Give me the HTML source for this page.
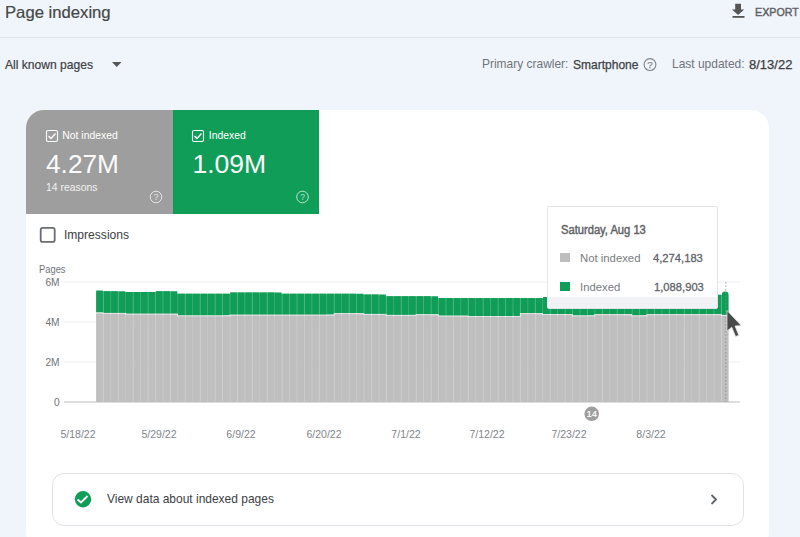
<!DOCTYPE html>
<html><head><meta charset="utf-8">
<style>
*{margin:0;padding:0;box-sizing:border-box}
html,body{width:800px;height:537px;overflow:hidden;background:#f0f4fb;font-family:"Liberation Sans",sans-serif;}
.abs{position:absolute}
.t{position:absolute;white-space:nowrap;line-height:normal}
</style></head><body>
<svg class="abs" style="left:0;top:0" width="800" height="537">
  <line x1="0" y1="37.5" x2="800" y2="37.5" stroke="#dfe3e8" stroke-width="1"/>
  <path d="M735.2 3.8h5.8v5.8h3.2l-6.1 5.4l-6.1-5.4h3.2z" fill="#555"/>
  <rect x="732.5" y="16" width="12" height="1.8" fill="#555"/>
  <path d="M112 62h9.5l-4.75 5z" fill="#555"/>
  <circle cx="650" cy="64.6" r="5.9" fill="none" stroke="#80868b" stroke-width="1.15"/>
  <text x="650" y="68.3" font-size="9.8" stroke="#80868b" stroke-width="0.25" text-anchor="middle" fill="#80868b" font-family="Liberation Sans">?</text>
</svg>

<div class="abs" style="left:26px;top:110px;width:743px;height:440px;background:#fff;border-radius:18px;overflow:hidden">
  <div class="abs" style="left:0;top:0;width:147px;height:104px;background:#9e9e9e"></div>
  <div class="abs" style="left:147px;top:0;width:146px;height:104px;background:#0f9d58"></div>
</div>

<svg class="abs" style="left:0;top:0" width="800" height="537">
  <rect x="46.5" y="130.5" width="11" height="11" rx="1.5" fill="none" stroke="#fff" stroke-width="1.1"/>
  <path d="M48.5 136l2.5 2.5 4.5-5" fill="none" stroke="#fff" stroke-width="1.3"/>
  <rect x="192.5" y="130.5" width="11" height="11" rx="1.5" fill="none" stroke="#fff" stroke-width="1.1"/>
  <path d="M194.5 136l2.5 2.5 4.5-5" fill="none" stroke="#fff" stroke-width="1.3"/>
  <circle cx="156" cy="197" r="5.8" fill="none" stroke="#e6e6e6" stroke-width="1"/>
  <text x="156" y="200.3" font-size="8.5" text-anchor="middle" fill="#e6e6e6" font-family="Liberation Sans">?</text>
  <circle cx="302.5" cy="197" r="5.8" fill="none" stroke="#bfe3cf" stroke-width="1"/>
  <text x="302.5" y="200.3" font-size="8.5" text-anchor="middle" fill="#bfe3cf" font-family="Liberation Sans">?</text>
  <rect x="40.7" y="227.9" width="14" height="14" rx="2" fill="none" stroke="#6a6e72" stroke-width="1.8"/>
  <line x1="64" y1="282" x2="740" y2="282" stroke="#e9edf2" stroke-width="1"/>
  <line x1="64" y1="322" x2="740" y2="322" stroke="#e9edf2" stroke-width="1"/>
  <line x1="64" y1="362" x2="740" y2="362" stroke="#e9edf2" stroke-width="1"/>
  <rect x="96.25" y="291.25" width="7.45" height="21.15" fill="#3fae74"/>
<rect x="96.25" y="313.90" width="7.45" height="88.10" fill="#c8c8c8"/>
<rect x="103.70" y="291.25" width="7.45" height="21.65" fill="#3fae74"/>
<rect x="103.70" y="313.90" width="7.45" height="88.10" fill="#c8c8c8"/>
<rect x="111.14" y="291.25" width="7.45" height="21.65" fill="#3fae74"/>
<rect x="111.14" y="313.90" width="7.45" height="88.10" fill="#c8c8c8"/>
<rect x="118.59" y="292.00" width="7.45" height="20.90" fill="#3fae74"/>
<rect x="118.59" y="314.65" width="7.45" height="87.35" fill="#c8c8c8"/>
<rect x="126.04" y="292.00" width="7.45" height="21.65" fill="#3fae74"/>
<rect x="126.04" y="314.65" width="7.45" height="87.35" fill="#c8c8c8"/>
<rect x="133.49" y="292.00" width="7.45" height="21.65" fill="#3fae74"/>
<rect x="133.49" y="314.65" width="7.45" height="87.35" fill="#c8c8c8"/>
<rect x="140.93" y="292.00" width="7.45" height="21.65" fill="#3fae74"/>
<rect x="140.93" y="314.65" width="7.45" height="87.35" fill="#c8c8c8"/>
<rect x="148.38" y="292.00" width="7.45" height="21.65" fill="#3fae74"/>
<rect x="148.38" y="314.65" width="7.45" height="87.35" fill="#c8c8c8"/>
<rect x="155.83" y="291.25" width="7.45" height="22.40" fill="#3fae74"/>
<rect x="155.83" y="314.65" width="7.45" height="87.35" fill="#c8c8c8"/>
<rect x="163.27" y="291.25" width="7.45" height="22.40" fill="#3fae74"/>
<rect x="163.27" y="314.65" width="7.45" height="87.35" fill="#c8c8c8"/>
<rect x="170.72" y="293.75" width="7.45" height="19.90" fill="#3fae74"/>
<rect x="170.72" y="316.40" width="7.45" height="85.60" fill="#c8c8c8"/>
<rect x="178.17" y="293.75" width="7.45" height="21.65" fill="#3fae74"/>
<rect x="178.17" y="316.40" width="7.45" height="85.60" fill="#c8c8c8"/>
<rect x="185.61" y="293.75" width="7.45" height="21.65" fill="#3fae74"/>
<rect x="185.61" y="316.40" width="7.45" height="85.60" fill="#c8c8c8"/>
<rect x="193.06" y="293.75" width="7.45" height="21.65" fill="#3fae74"/>
<rect x="193.06" y="316.40" width="7.45" height="85.60" fill="#c8c8c8"/>
<rect x="200.51" y="293.75" width="7.45" height="21.65" fill="#3fae74"/>
<rect x="200.51" y="316.40" width="7.45" height="85.60" fill="#c8c8c8"/>
<rect x="207.95" y="293.75" width="7.45" height="21.65" fill="#3fae74"/>
<rect x="207.95" y="316.40" width="7.45" height="85.60" fill="#c8c8c8"/>
<rect x="215.40" y="293.75" width="7.45" height="21.65" fill="#3fae74"/>
<rect x="215.40" y="316.40" width="7.45" height="85.60" fill="#c8c8c8"/>
<rect x="222.85" y="293.75" width="7.45" height="20.90" fill="#3fae74"/>
<rect x="222.85" y="316.40" width="7.45" height="85.60" fill="#c8c8c8"/>
<rect x="230.30" y="292.50" width="7.45" height="22.15" fill="#3fae74"/>
<rect x="230.30" y="315.65" width="7.45" height="86.35" fill="#c8c8c8"/>
<rect x="237.74" y="292.50" width="7.45" height="22.15" fill="#3fae74"/>
<rect x="237.74" y="315.65" width="7.45" height="86.35" fill="#c8c8c8"/>
<rect x="245.19" y="292.50" width="7.45" height="22.15" fill="#3fae74"/>
<rect x="245.19" y="315.65" width="7.45" height="86.35" fill="#c8c8c8"/>
<rect x="252.64" y="292.50" width="7.45" height="22.15" fill="#3fae74"/>
<rect x="252.64" y="315.65" width="7.45" height="86.35" fill="#c8c8c8"/>
<rect x="260.08" y="292.50" width="7.45" height="22.15" fill="#3fae74"/>
<rect x="260.08" y="315.65" width="7.45" height="86.35" fill="#c8c8c8"/>
<rect x="267.53" y="292.50" width="7.45" height="22.15" fill="#3fae74"/>
<rect x="267.53" y="315.65" width="7.45" height="86.35" fill="#c8c8c8"/>
<rect x="274.98" y="293.75" width="7.45" height="20.90" fill="#3fae74"/>
<rect x="274.98" y="315.65" width="7.45" height="86.35" fill="#c8c8c8"/>
<rect x="282.43" y="293.75" width="7.45" height="20.90" fill="#3fae74"/>
<rect x="282.43" y="315.65" width="7.45" height="86.35" fill="#c8c8c8"/>
<rect x="289.87" y="293.75" width="7.45" height="20.90" fill="#3fae74"/>
<rect x="289.87" y="315.65" width="7.45" height="86.35" fill="#c8c8c8"/>
<rect x="297.32" y="293.75" width="7.45" height="20.90" fill="#3fae74"/>
<rect x="297.32" y="315.65" width="7.45" height="86.35" fill="#c8c8c8"/>
<rect x="304.77" y="293.75" width="7.45" height="20.90" fill="#3fae74"/>
<rect x="304.77" y="315.65" width="7.45" height="86.35" fill="#c8c8c8"/>
<rect x="312.21" y="293.75" width="7.45" height="20.90" fill="#3fae74"/>
<rect x="312.21" y="315.65" width="7.45" height="86.35" fill="#c8c8c8"/>
<rect x="319.66" y="293.75" width="7.45" height="20.90" fill="#3fae74"/>
<rect x="319.66" y="315.65" width="7.45" height="86.35" fill="#c8c8c8"/>
<rect x="327.11" y="293.75" width="7.45" height="19.40" fill="#3fae74"/>
<rect x="327.11" y="315.65" width="7.45" height="86.35" fill="#c8c8c8"/>
<rect x="334.55" y="293.75" width="7.45" height="19.40" fill="#3fae74"/>
<rect x="334.55" y="314.15" width="7.45" height="87.85" fill="#c8c8c8"/>
<rect x="342.00" y="293.75" width="7.45" height="19.40" fill="#3fae74"/>
<rect x="342.00" y="314.15" width="7.45" height="87.85" fill="#c8c8c8"/>
<rect x="349.45" y="293.75" width="7.45" height="19.40" fill="#3fae74"/>
<rect x="349.45" y="314.15" width="7.45" height="87.85" fill="#c8c8c8"/>
<rect x="356.89" y="294.50" width="7.45" height="18.65" fill="#3fae74"/>
<rect x="356.89" y="314.90" width="7.45" height="87.10" fill="#c8c8c8"/>
<rect x="364.34" y="294.50" width="7.45" height="19.40" fill="#3fae74"/>
<rect x="364.34" y="314.90" width="7.45" height="87.10" fill="#c8c8c8"/>
<rect x="371.79" y="294.50" width="7.45" height="19.40" fill="#3fae74"/>
<rect x="371.79" y="314.90" width="7.45" height="87.10" fill="#c8c8c8"/>
<rect x="379.24" y="296.25" width="7.45" height="17.65" fill="#3fae74"/>
<rect x="379.24" y="315.90" width="7.45" height="86.10" fill="#c8c8c8"/>
<rect x="386.68" y="296.25" width="7.45" height="18.65" fill="#3fae74"/>
<rect x="386.68" y="315.90" width="7.45" height="86.10" fill="#c8c8c8"/>
<rect x="394.13" y="296.25" width="7.45" height="18.65" fill="#3fae74"/>
<rect x="394.13" y="315.90" width="7.45" height="86.10" fill="#c8c8c8"/>
<rect x="401.58" y="296.25" width="7.45" height="18.65" fill="#3fae74"/>
<rect x="401.58" y="315.90" width="7.45" height="86.10" fill="#c8c8c8"/>
<rect x="409.02" y="296.25" width="7.45" height="17.95" fill="#3fae74"/>
<rect x="409.02" y="315.90" width="7.45" height="86.10" fill="#c8c8c8"/>
<rect x="416.47" y="296.25" width="7.45" height="17.95" fill="#3fae74"/>
<rect x="416.47" y="315.20" width="7.45" height="86.80" fill="#c8c8c8"/>
<rect x="423.92" y="296.25" width="7.45" height="17.95" fill="#3fae74"/>
<rect x="423.92" y="315.20" width="7.45" height="86.80" fill="#c8c8c8"/>
<rect x="431.37" y="298.10" width="7.45" height="16.10" fill="#3fae74"/>
<rect x="431.37" y="316.60" width="7.45" height="85.40" fill="#c8c8c8"/>
<rect x="438.81" y="298.10" width="7.45" height="17.50" fill="#3fae74"/>
<rect x="438.81" y="316.60" width="7.45" height="85.40" fill="#c8c8c8"/>
<rect x="446.26" y="298.10" width="7.45" height="17.50" fill="#3fae74"/>
<rect x="446.26" y="316.60" width="7.45" height="85.40" fill="#c8c8c8"/>
<rect x="453.71" y="298.10" width="7.45" height="17.50" fill="#3fae74"/>
<rect x="453.71" y="316.60" width="7.45" height="85.40" fill="#c8c8c8"/>
<rect x="461.15" y="298.10" width="7.45" height="17.50" fill="#3fae74"/>
<rect x="461.15" y="317.00" width="7.45" height="85.00" fill="#c8c8c8"/>
<rect x="468.60" y="298.10" width="7.45" height="17.90" fill="#3fae74"/>
<rect x="468.60" y="317.00" width="7.45" height="85.00" fill="#c8c8c8"/>
<rect x="476.05" y="298.10" width="7.45" height="17.90" fill="#3fae74"/>
<rect x="476.05" y="317.00" width="7.45" height="85.00" fill="#c8c8c8"/>
<rect x="483.49" y="298.10" width="7.45" height="17.90" fill="#3fae74"/>
<rect x="483.49" y="317.00" width="7.45" height="85.00" fill="#c8c8c8"/>
<rect x="490.94" y="298.10" width="7.45" height="17.90" fill="#3fae74"/>
<rect x="490.94" y="317.00" width="7.45" height="85.00" fill="#c8c8c8"/>
<rect x="498.39" y="298.10" width="7.45" height="17.90" fill="#3fae74"/>
<rect x="498.39" y="317.00" width="7.45" height="85.00" fill="#c8c8c8"/>
<rect x="505.83" y="298.10" width="7.45" height="17.90" fill="#3fae74"/>
<rect x="505.83" y="317.00" width="7.45" height="85.00" fill="#c8c8c8"/>
<rect x="513.28" y="298.10" width="7.45" height="15.05" fill="#3fae74"/>
<rect x="513.28" y="317.00" width="7.45" height="85.00" fill="#c8c8c8"/>
<rect x="520.73" y="298.10" width="7.45" height="15.05" fill="#3fae74"/>
<rect x="520.73" y="314.15" width="7.45" height="87.85" fill="#c8c8c8"/>
<rect x="528.18" y="298.10" width="7.45" height="15.05" fill="#3fae74"/>
<rect x="528.18" y="314.15" width="7.45" height="87.85" fill="#c8c8c8"/>
<rect x="535.62" y="298.10" width="7.45" height="15.05" fill="#3fae74"/>
<rect x="535.62" y="315.00" width="7.45" height="87.00" fill="#c8c8c8"/>
<rect x="543.07" y="297.00" width="7.45" height="17.00" fill="#3fae74"/>
<rect x="543.07" y="315.00" width="7.45" height="87.00" fill="#c8c8c8"/>
<rect x="550.52" y="297.00" width="7.45" height="17.00" fill="#3fae74"/>
<rect x="550.52" y="315.00" width="7.45" height="87.00" fill="#c8c8c8"/>
<rect x="557.96" y="297.00" width="7.45" height="17.00" fill="#3fae74"/>
<rect x="557.96" y="315.00" width="7.45" height="87.00" fill="#c8c8c8"/>
<rect x="565.41" y="297.00" width="7.45" height="17.00" fill="#3fae74"/>
<rect x="565.41" y="316.40" width="7.45" height="85.60" fill="#c8c8c8"/>
<rect x="572.86" y="297.00" width="7.45" height="18.40" fill="#3fae74"/>
<rect x="572.86" y="316.40" width="7.45" height="85.60" fill="#c8c8c8"/>
<rect x="580.31" y="297.00" width="7.45" height="18.40" fill="#3fae74"/>
<rect x="580.31" y="316.40" width="7.45" height="85.60" fill="#c8c8c8"/>
<rect x="587.75" y="297.00" width="7.45" height="17.15" fill="#3fae74"/>
<rect x="587.75" y="316.40" width="7.45" height="85.60" fill="#c8c8c8"/>
<rect x="595.20" y="297.00" width="7.45" height="17.15" fill="#3fae74"/>
<rect x="595.20" y="315.15" width="7.45" height="86.85" fill="#c8c8c8"/>
<rect x="602.65" y="297.00" width="7.45" height="17.15" fill="#3fae74"/>
<rect x="602.65" y="315.15" width="7.45" height="86.85" fill="#c8c8c8"/>
<rect x="610.09" y="297.00" width="7.45" height="17.15" fill="#3fae74"/>
<rect x="610.09" y="315.15" width="7.45" height="86.85" fill="#c8c8c8"/>
<rect x="617.54" y="297.00" width="7.45" height="17.15" fill="#3fae74"/>
<rect x="617.54" y="315.15" width="7.45" height="86.85" fill="#c8c8c8"/>
<rect x="624.99" y="297.00" width="7.45" height="17.15" fill="#3fae74"/>
<rect x="624.99" y="316.40" width="7.45" height="85.60" fill="#c8c8c8"/>
<rect x="632.43" y="297.00" width="7.45" height="18.40" fill="#3fae74"/>
<rect x="632.43" y="316.40" width="7.45" height="85.60" fill="#c8c8c8"/>
<rect x="639.88" y="297.00" width="7.45" height="17.15" fill="#3fae74"/>
<rect x="639.88" y="316.40" width="7.45" height="85.60" fill="#c8c8c8"/>
<rect x="647.33" y="297.00" width="7.45" height="17.15" fill="#3fae74"/>
<rect x="647.33" y="315.15" width="7.45" height="86.85" fill="#c8c8c8"/>
<rect x="654.77" y="297.00" width="7.45" height="17.15" fill="#3fae74"/>
<rect x="654.77" y="315.15" width="7.45" height="86.85" fill="#c8c8c8"/>
<rect x="662.22" y="297.00" width="7.45" height="17.15" fill="#3fae74"/>
<rect x="662.22" y="315.15" width="7.45" height="86.85" fill="#c8c8c8"/>
<rect x="669.67" y="297.00" width="7.45" height="17.15" fill="#3fae74"/>
<rect x="669.67" y="315.15" width="7.45" height="86.85" fill="#c8c8c8"/>
<rect x="677.12" y="297.00" width="7.45" height="17.15" fill="#3fae74"/>
<rect x="677.12" y="315.15" width="7.45" height="86.85" fill="#c8c8c8"/>
<rect x="684.56" y="297.00" width="7.45" height="17.15" fill="#3fae74"/>
<rect x="684.56" y="315.15" width="7.45" height="86.85" fill="#c8c8c8"/>
<rect x="692.01" y="297.00" width="7.45" height="17.15" fill="#3fae74"/>
<rect x="692.01" y="315.15" width="7.45" height="86.85" fill="#c8c8c8"/>
<rect x="699.46" y="297.00" width="7.45" height="17.15" fill="#3fae74"/>
<rect x="699.46" y="315.15" width="7.45" height="86.85" fill="#c8c8c8"/>
<rect x="706.90" y="297.00" width="7.45" height="17.15" fill="#3fae74"/>
<rect x="706.90" y="315.15" width="7.45" height="86.85" fill="#c8c8c8"/>
<rect x="714.35" y="294.80" width="7.45" height="19.35" fill="#3fae74"/>
<rect x="714.35" y="315.90" width="7.45" height="86.10" fill="#c8c8c8"/>
<rect x="96.25" y="290.50" width="6.6" height="21.90" fill="#0f9d58"/>
<rect x="96.25" y="312.40" width="6.6" height="1" fill="#e2dede"/>
<rect x="96.25" y="313.40" width="6.6" height="88.60" fill="#bfbfbf"/>
<rect x="103.70" y="291.25" width="6.6" height="21.65" fill="#0f9d58"/>
<rect x="103.70" y="312.90" width="6.6" height="1" fill="#e2dede"/>
<rect x="103.70" y="313.90" width="6.6" height="88.10" fill="#bfbfbf"/>
<rect x="111.14" y="291.25" width="6.6" height="21.65" fill="#0f9d58"/>
<rect x="111.14" y="312.90" width="6.6" height="1" fill="#e2dede"/>
<rect x="111.14" y="313.90" width="6.6" height="88.10" fill="#bfbfbf"/>
<rect x="118.59" y="291.25" width="6.6" height="21.65" fill="#0f9d58"/>
<rect x="118.59" y="312.90" width="6.6" height="1" fill="#e2dede"/>
<rect x="118.59" y="313.90" width="6.6" height="88.10" fill="#bfbfbf"/>
<rect x="126.04" y="292.00" width="6.6" height="21.65" fill="#0f9d58"/>
<rect x="126.04" y="313.65" width="6.6" height="1" fill="#e2dede"/>
<rect x="126.04" y="314.65" width="6.6" height="87.35" fill="#bfbfbf"/>
<rect x="133.49" y="292.00" width="6.6" height="21.65" fill="#0f9d58"/>
<rect x="133.49" y="313.65" width="6.6" height="1" fill="#e2dede"/>
<rect x="133.49" y="314.65" width="6.6" height="87.35" fill="#bfbfbf"/>
<rect x="140.93" y="292.00" width="6.6" height="21.65" fill="#0f9d58"/>
<rect x="140.93" y="313.65" width="6.6" height="1" fill="#e2dede"/>
<rect x="140.93" y="314.65" width="6.6" height="87.35" fill="#bfbfbf"/>
<rect x="148.38" y="292.00" width="6.6" height="21.65" fill="#0f9d58"/>
<rect x="148.38" y="313.65" width="6.6" height="1" fill="#e2dede"/>
<rect x="148.38" y="314.65" width="6.6" height="87.35" fill="#bfbfbf"/>
<rect x="155.83" y="291.25" width="6.6" height="22.40" fill="#0f9d58"/>
<rect x="155.83" y="313.65" width="6.6" height="1" fill="#e2dede"/>
<rect x="155.83" y="314.65" width="6.6" height="87.35" fill="#bfbfbf"/>
<rect x="163.27" y="291.25" width="6.6" height="22.40" fill="#0f9d58"/>
<rect x="163.27" y="313.65" width="6.6" height="1" fill="#e2dede"/>
<rect x="163.27" y="314.65" width="6.6" height="87.35" fill="#bfbfbf"/>
<rect x="170.72" y="291.25" width="6.6" height="22.40" fill="#0f9d58"/>
<rect x="170.72" y="313.65" width="6.6" height="1" fill="#e2dede"/>
<rect x="170.72" y="314.65" width="6.6" height="87.35" fill="#bfbfbf"/>
<rect x="178.17" y="293.75" width="6.6" height="21.65" fill="#0f9d58"/>
<rect x="178.17" y="315.40" width="6.6" height="1" fill="#e2dede"/>
<rect x="178.17" y="316.40" width="6.6" height="85.60" fill="#bfbfbf"/>
<rect x="185.61" y="293.75" width="6.6" height="21.65" fill="#0f9d58"/>
<rect x="185.61" y="315.40" width="6.6" height="1" fill="#e2dede"/>
<rect x="185.61" y="316.40" width="6.6" height="85.60" fill="#bfbfbf"/>
<rect x="193.06" y="293.75" width="6.6" height="21.65" fill="#0f9d58"/>
<rect x="193.06" y="315.40" width="6.6" height="1" fill="#e2dede"/>
<rect x="193.06" y="316.40" width="6.6" height="85.60" fill="#bfbfbf"/>
<rect x="200.51" y="293.75" width="6.6" height="21.65" fill="#0f9d58"/>
<rect x="200.51" y="315.40" width="6.6" height="1" fill="#e2dede"/>
<rect x="200.51" y="316.40" width="6.6" height="85.60" fill="#bfbfbf"/>
<rect x="207.95" y="293.75" width="6.6" height="21.65" fill="#0f9d58"/>
<rect x="207.95" y="315.40" width="6.6" height="1" fill="#e2dede"/>
<rect x="207.95" y="316.40" width="6.6" height="85.60" fill="#bfbfbf"/>
<rect x="215.40" y="293.75" width="6.6" height="21.65" fill="#0f9d58"/>
<rect x="215.40" y="315.40" width="6.6" height="1" fill="#e2dede"/>
<rect x="215.40" y="316.40" width="6.6" height="85.60" fill="#bfbfbf"/>
<rect x="222.85" y="293.75" width="6.6" height="21.65" fill="#0f9d58"/>
<rect x="222.85" y="315.40" width="6.6" height="1" fill="#e2dede"/>
<rect x="222.85" y="316.40" width="6.6" height="85.60" fill="#bfbfbf"/>
<rect x="230.30" y="292.50" width="6.6" height="22.15" fill="#0f9d58"/>
<rect x="230.30" y="314.65" width="6.6" height="1" fill="#e2dede"/>
<rect x="230.30" y="315.65" width="6.6" height="86.35" fill="#bfbfbf"/>
<rect x="237.74" y="292.50" width="6.6" height="22.15" fill="#0f9d58"/>
<rect x="237.74" y="314.65" width="6.6" height="1" fill="#e2dede"/>
<rect x="237.74" y="315.65" width="6.6" height="86.35" fill="#bfbfbf"/>
<rect x="245.19" y="292.50" width="6.6" height="22.15" fill="#0f9d58"/>
<rect x="245.19" y="314.65" width="6.6" height="1" fill="#e2dede"/>
<rect x="245.19" y="315.65" width="6.6" height="86.35" fill="#bfbfbf"/>
<rect x="252.64" y="292.50" width="6.6" height="22.15" fill="#0f9d58"/>
<rect x="252.64" y="314.65" width="6.6" height="1" fill="#e2dede"/>
<rect x="252.64" y="315.65" width="6.6" height="86.35" fill="#bfbfbf"/>
<rect x="260.08" y="292.50" width="6.6" height="22.15" fill="#0f9d58"/>
<rect x="260.08" y="314.65" width="6.6" height="1" fill="#e2dede"/>
<rect x="260.08" y="315.65" width="6.6" height="86.35" fill="#bfbfbf"/>
<rect x="267.53" y="292.50" width="6.6" height="22.15" fill="#0f9d58"/>
<rect x="267.53" y="314.65" width="6.6" height="1" fill="#e2dede"/>
<rect x="267.53" y="315.65" width="6.6" height="86.35" fill="#bfbfbf"/>
<rect x="274.98" y="292.50" width="6.6" height="22.15" fill="#0f9d58"/>
<rect x="274.98" y="314.65" width="6.6" height="1" fill="#e2dede"/>
<rect x="274.98" y="315.65" width="6.6" height="86.35" fill="#bfbfbf"/>
<rect x="282.43" y="293.75" width="6.6" height="20.90" fill="#0f9d58"/>
<rect x="282.43" y="314.65" width="6.6" height="1" fill="#e2dede"/>
<rect x="282.43" y="315.65" width="6.6" height="86.35" fill="#bfbfbf"/>
<rect x="289.87" y="293.75" width="6.6" height="20.90" fill="#0f9d58"/>
<rect x="289.87" y="314.65" width="6.6" height="1" fill="#e2dede"/>
<rect x="289.87" y="315.65" width="6.6" height="86.35" fill="#bfbfbf"/>
<rect x="297.32" y="293.75" width="6.6" height="20.90" fill="#0f9d58"/>
<rect x="297.32" y="314.65" width="6.6" height="1" fill="#e2dede"/>
<rect x="297.32" y="315.65" width="6.6" height="86.35" fill="#bfbfbf"/>
<rect x="304.77" y="293.75" width="6.6" height="20.90" fill="#0f9d58"/>
<rect x="304.77" y="314.65" width="6.6" height="1" fill="#e2dede"/>
<rect x="304.77" y="315.65" width="6.6" height="86.35" fill="#bfbfbf"/>
<rect x="312.21" y="293.75" width="6.6" height="20.90" fill="#0f9d58"/>
<rect x="312.21" y="314.65" width="6.6" height="1" fill="#e2dede"/>
<rect x="312.21" y="315.65" width="6.6" height="86.35" fill="#bfbfbf"/>
<rect x="319.66" y="293.75" width="6.6" height="20.90" fill="#0f9d58"/>
<rect x="319.66" y="314.65" width="6.6" height="1" fill="#e2dede"/>
<rect x="319.66" y="315.65" width="6.6" height="86.35" fill="#bfbfbf"/>
<rect x="327.11" y="293.75" width="6.6" height="20.90" fill="#0f9d58"/>
<rect x="327.11" y="314.65" width="6.6" height="1" fill="#e2dede"/>
<rect x="327.11" y="315.65" width="6.6" height="86.35" fill="#bfbfbf"/>
<rect x="334.55" y="293.75" width="6.6" height="19.40" fill="#0f9d58"/>
<rect x="334.55" y="313.15" width="6.6" height="1" fill="#e2dede"/>
<rect x="334.55" y="314.15" width="6.6" height="87.85" fill="#bfbfbf"/>
<rect x="342.00" y="293.75" width="6.6" height="19.40" fill="#0f9d58"/>
<rect x="342.00" y="313.15" width="6.6" height="1" fill="#e2dede"/>
<rect x="342.00" y="314.15" width="6.6" height="87.85" fill="#bfbfbf"/>
<rect x="349.45" y="293.75" width="6.6" height="19.40" fill="#0f9d58"/>
<rect x="349.45" y="313.15" width="6.6" height="1" fill="#e2dede"/>
<rect x="349.45" y="314.15" width="6.6" height="87.85" fill="#bfbfbf"/>
<rect x="356.89" y="293.75" width="6.6" height="19.40" fill="#0f9d58"/>
<rect x="356.89" y="313.15" width="6.6" height="1" fill="#e2dede"/>
<rect x="356.89" y="314.15" width="6.6" height="87.85" fill="#bfbfbf"/>
<rect x="364.34" y="294.50" width="6.6" height="19.40" fill="#0f9d58"/>
<rect x="364.34" y="313.90" width="6.6" height="1" fill="#e2dede"/>
<rect x="364.34" y="314.90" width="6.6" height="87.10" fill="#bfbfbf"/>
<rect x="371.79" y="294.50" width="6.6" height="19.40" fill="#0f9d58"/>
<rect x="371.79" y="313.90" width="6.6" height="1" fill="#e2dede"/>
<rect x="371.79" y="314.90" width="6.6" height="87.10" fill="#bfbfbf"/>
<rect x="379.24" y="294.50" width="6.6" height="19.40" fill="#0f9d58"/>
<rect x="379.24" y="313.90" width="6.6" height="1" fill="#e2dede"/>
<rect x="379.24" y="314.90" width="6.6" height="87.10" fill="#bfbfbf"/>
<rect x="386.68" y="296.25" width="6.6" height="18.65" fill="#0f9d58"/>
<rect x="386.68" y="314.90" width="6.6" height="1" fill="#e2dede"/>
<rect x="386.68" y="315.90" width="6.6" height="86.10" fill="#bfbfbf"/>
<rect x="394.13" y="296.25" width="6.6" height="18.65" fill="#0f9d58"/>
<rect x="394.13" y="314.90" width="6.6" height="1" fill="#e2dede"/>
<rect x="394.13" y="315.90" width="6.6" height="86.10" fill="#bfbfbf"/>
<rect x="401.58" y="296.25" width="6.6" height="18.65" fill="#0f9d58"/>
<rect x="401.58" y="314.90" width="6.6" height="1" fill="#e2dede"/>
<rect x="401.58" y="315.90" width="6.6" height="86.10" fill="#bfbfbf"/>
<rect x="409.02" y="296.25" width="6.6" height="18.65" fill="#0f9d58"/>
<rect x="409.02" y="314.90" width="6.6" height="1" fill="#e2dede"/>
<rect x="409.02" y="315.90" width="6.6" height="86.10" fill="#bfbfbf"/>
<rect x="416.47" y="296.25" width="6.6" height="17.95" fill="#0f9d58"/>
<rect x="416.47" y="314.20" width="6.6" height="1" fill="#e2dede"/>
<rect x="416.47" y="315.20" width="6.6" height="86.80" fill="#bfbfbf"/>
<rect x="423.92" y="296.25" width="6.6" height="17.95" fill="#0f9d58"/>
<rect x="423.92" y="314.20" width="6.6" height="1" fill="#e2dede"/>
<rect x="423.92" y="315.20" width="6.6" height="86.80" fill="#bfbfbf"/>
<rect x="431.37" y="296.25" width="6.6" height="17.95" fill="#0f9d58"/>
<rect x="431.37" y="314.20" width="6.6" height="1" fill="#e2dede"/>
<rect x="431.37" y="315.20" width="6.6" height="86.80" fill="#bfbfbf"/>
<rect x="438.81" y="298.10" width="6.6" height="17.50" fill="#0f9d58"/>
<rect x="438.81" y="315.60" width="6.6" height="1" fill="#e2dede"/>
<rect x="438.81" y="316.60" width="6.6" height="85.40" fill="#bfbfbf"/>
<rect x="446.26" y="298.10" width="6.6" height="17.50" fill="#0f9d58"/>
<rect x="446.26" y="315.60" width="6.6" height="1" fill="#e2dede"/>
<rect x="446.26" y="316.60" width="6.6" height="85.40" fill="#bfbfbf"/>
<rect x="453.71" y="298.10" width="6.6" height="17.50" fill="#0f9d58"/>
<rect x="453.71" y="315.60" width="6.6" height="1" fill="#e2dede"/>
<rect x="453.71" y="316.60" width="6.6" height="85.40" fill="#bfbfbf"/>
<rect x="461.15" y="298.10" width="6.6" height="17.50" fill="#0f9d58"/>
<rect x="461.15" y="315.60" width="6.6" height="1" fill="#e2dede"/>
<rect x="461.15" y="316.60" width="6.6" height="85.40" fill="#bfbfbf"/>
<rect x="468.60" y="298.10" width="6.6" height="17.90" fill="#0f9d58"/>
<rect x="468.60" y="316.00" width="6.6" height="1" fill="#e2dede"/>
<rect x="468.60" y="317.00" width="6.6" height="85.00" fill="#bfbfbf"/>
<rect x="476.05" y="298.10" width="6.6" height="17.90" fill="#0f9d58"/>
<rect x="476.05" y="316.00" width="6.6" height="1" fill="#e2dede"/>
<rect x="476.05" y="317.00" width="6.6" height="85.00" fill="#bfbfbf"/>
<rect x="483.49" y="298.10" width="6.6" height="17.90" fill="#0f9d58"/>
<rect x="483.49" y="316.00" width="6.6" height="1" fill="#e2dede"/>
<rect x="483.49" y="317.00" width="6.6" height="85.00" fill="#bfbfbf"/>
<rect x="490.94" y="298.10" width="6.6" height="17.90" fill="#0f9d58"/>
<rect x="490.94" y="316.00" width="6.6" height="1" fill="#e2dede"/>
<rect x="490.94" y="317.00" width="6.6" height="85.00" fill="#bfbfbf"/>
<rect x="498.39" y="298.10" width="6.6" height="17.90" fill="#0f9d58"/>
<rect x="498.39" y="316.00" width="6.6" height="1" fill="#e2dede"/>
<rect x="498.39" y="317.00" width="6.6" height="85.00" fill="#bfbfbf"/>
<rect x="505.83" y="298.10" width="6.6" height="17.90" fill="#0f9d58"/>
<rect x="505.83" y="316.00" width="6.6" height="1" fill="#e2dede"/>
<rect x="505.83" y="317.00" width="6.6" height="85.00" fill="#bfbfbf"/>
<rect x="513.28" y="298.10" width="6.6" height="17.90" fill="#0f9d58"/>
<rect x="513.28" y="316.00" width="6.6" height="1" fill="#e2dede"/>
<rect x="513.28" y="317.00" width="6.6" height="85.00" fill="#bfbfbf"/>
<rect x="520.73" y="298.10" width="6.6" height="15.05" fill="#0f9d58"/>
<rect x="520.73" y="313.15" width="6.6" height="1" fill="#e2dede"/>
<rect x="520.73" y="314.15" width="6.6" height="87.85" fill="#bfbfbf"/>
<rect x="528.18" y="298.10" width="6.6" height="15.05" fill="#0f9d58"/>
<rect x="528.18" y="313.15" width="6.6" height="1" fill="#e2dede"/>
<rect x="528.18" y="314.15" width="6.6" height="87.85" fill="#bfbfbf"/>
<rect x="535.62" y="298.10" width="6.6" height="15.05" fill="#0f9d58"/>
<rect x="535.62" y="313.15" width="6.6" height="1" fill="#e2dede"/>
<rect x="535.62" y="314.15" width="6.6" height="87.85" fill="#bfbfbf"/>
<rect x="543.07" y="297.00" width="6.6" height="17.00" fill="#0f9d58"/>
<rect x="543.07" y="314.00" width="6.6" height="1" fill="#e2dede"/>
<rect x="543.07" y="315.00" width="6.6" height="87.00" fill="#bfbfbf"/>
<rect x="550.52" y="297.00" width="6.6" height="17.00" fill="#0f9d58"/>
<rect x="550.52" y="314.00" width="6.6" height="1" fill="#e2dede"/>
<rect x="550.52" y="315.00" width="6.6" height="87.00" fill="#bfbfbf"/>
<rect x="557.96" y="297.00" width="6.6" height="17.00" fill="#0f9d58"/>
<rect x="557.96" y="314.00" width="6.6" height="1" fill="#e2dede"/>
<rect x="557.96" y="315.00" width="6.6" height="87.00" fill="#bfbfbf"/>
<rect x="565.41" y="297.00" width="6.6" height="17.00" fill="#0f9d58"/>
<rect x="565.41" y="314.00" width="6.6" height="1" fill="#e2dede"/>
<rect x="565.41" y="315.00" width="6.6" height="87.00" fill="#bfbfbf"/>
<rect x="572.86" y="297.00" width="6.6" height="18.40" fill="#0f9d58"/>
<rect x="572.86" y="315.40" width="6.6" height="1" fill="#e2dede"/>
<rect x="572.86" y="316.40" width="6.6" height="85.60" fill="#bfbfbf"/>
<rect x="580.31" y="297.00" width="6.6" height="18.40" fill="#0f9d58"/>
<rect x="580.31" y="315.40" width="6.6" height="1" fill="#e2dede"/>
<rect x="580.31" y="316.40" width="6.6" height="85.60" fill="#bfbfbf"/>
<rect x="587.75" y="297.00" width="6.6" height="18.40" fill="#0f9d58"/>
<rect x="587.75" y="315.40" width="6.6" height="1" fill="#e2dede"/>
<rect x="587.75" y="316.40" width="6.6" height="85.60" fill="#bfbfbf"/>
<rect x="595.20" y="297.00" width="6.6" height="17.15" fill="#0f9d58"/>
<rect x="595.20" y="314.15" width="6.6" height="1" fill="#e2dede"/>
<rect x="595.20" y="315.15" width="6.6" height="86.85" fill="#bfbfbf"/>
<rect x="602.65" y="297.00" width="6.6" height="17.15" fill="#0f9d58"/>
<rect x="602.65" y="314.15" width="6.6" height="1" fill="#e2dede"/>
<rect x="602.65" y="315.15" width="6.6" height="86.85" fill="#bfbfbf"/>
<rect x="610.09" y="297.00" width="6.6" height="17.15" fill="#0f9d58"/>
<rect x="610.09" y="314.15" width="6.6" height="1" fill="#e2dede"/>
<rect x="610.09" y="315.15" width="6.6" height="86.85" fill="#bfbfbf"/>
<rect x="617.54" y="297.00" width="6.6" height="17.15" fill="#0f9d58"/>
<rect x="617.54" y="314.15" width="6.6" height="1" fill="#e2dede"/>
<rect x="617.54" y="315.15" width="6.6" height="86.85" fill="#bfbfbf"/>
<rect x="624.99" y="297.00" width="6.6" height="17.15" fill="#0f9d58"/>
<rect x="624.99" y="314.15" width="6.6" height="1" fill="#e2dede"/>
<rect x="624.99" y="315.15" width="6.6" height="86.85" fill="#bfbfbf"/>
<rect x="632.43" y="297.00" width="6.6" height="18.40" fill="#0f9d58"/>
<rect x="632.43" y="315.40" width="6.6" height="1" fill="#e2dede"/>
<rect x="632.43" y="316.40" width="6.6" height="85.60" fill="#bfbfbf"/>
<rect x="639.88" y="297.00" width="6.6" height="18.40" fill="#0f9d58"/>
<rect x="639.88" y="315.40" width="6.6" height="1" fill="#e2dede"/>
<rect x="639.88" y="316.40" width="6.6" height="85.60" fill="#bfbfbf"/>
<rect x="647.33" y="297.00" width="6.6" height="17.15" fill="#0f9d58"/>
<rect x="647.33" y="314.15" width="6.6" height="1" fill="#e2dede"/>
<rect x="647.33" y="315.15" width="6.6" height="86.85" fill="#bfbfbf"/>
<rect x="654.77" y="297.00" width="6.6" height="17.15" fill="#0f9d58"/>
<rect x="654.77" y="314.15" width="6.6" height="1" fill="#e2dede"/>
<rect x="654.77" y="315.15" width="6.6" height="86.85" fill="#bfbfbf"/>
<rect x="662.22" y="297.00" width="6.6" height="17.15" fill="#0f9d58"/>
<rect x="662.22" y="314.15" width="6.6" height="1" fill="#e2dede"/>
<rect x="662.22" y="315.15" width="6.6" height="86.85" fill="#bfbfbf"/>
<rect x="669.67" y="297.00" width="6.6" height="17.15" fill="#0f9d58"/>
<rect x="669.67" y="314.15" width="6.6" height="1" fill="#e2dede"/>
<rect x="669.67" y="315.15" width="6.6" height="86.85" fill="#bfbfbf"/>
<rect x="677.12" y="297.00" width="6.6" height="17.15" fill="#0f9d58"/>
<rect x="677.12" y="314.15" width="6.6" height="1" fill="#e2dede"/>
<rect x="677.12" y="315.15" width="6.6" height="86.85" fill="#bfbfbf"/>
<rect x="684.56" y="297.00" width="6.6" height="17.15" fill="#0f9d58"/>
<rect x="684.56" y="314.15" width="6.6" height="1" fill="#e2dede"/>
<rect x="684.56" y="315.15" width="6.6" height="86.85" fill="#bfbfbf"/>
<rect x="692.01" y="297.00" width="6.6" height="17.15" fill="#0f9d58"/>
<rect x="692.01" y="314.15" width="6.6" height="1" fill="#e2dede"/>
<rect x="692.01" y="315.15" width="6.6" height="86.85" fill="#bfbfbf"/>
<rect x="699.46" y="297.00" width="6.6" height="17.15" fill="#0f9d58"/>
<rect x="699.46" y="314.15" width="6.6" height="1" fill="#e2dede"/>
<rect x="699.46" y="315.15" width="6.6" height="86.85" fill="#bfbfbf"/>
<rect x="706.90" y="297.00" width="6.6" height="17.15" fill="#0f9d58"/>
<rect x="706.90" y="314.15" width="6.6" height="1" fill="#e2dede"/>
<rect x="706.90" y="315.15" width="6.6" height="86.85" fill="#bfbfbf"/>
<rect x="714.35" y="294.80" width="6.6" height="19.35" fill="#0f9d58"/>
<rect x="714.35" y="314.15" width="6.6" height="1" fill="#e2dede"/>
<rect x="714.35" y="315.15" width="6.6" height="86.85" fill="#bfbfbf"/>
<path d="M721.80 314.90V295.00a3.4 3.4 0 0 1 6.8 0V314.90z" fill="#0f9d58"/>
<rect x="721.80" y="314.90" width="6.8" height="1" fill="#e2dede"/>
<rect x="721.80" y="315.90" width="6.8" height="86.10" fill="#bfbfbf"/>
  <line x1="64" y1="402" x2="740" y2="402" stroke="#bdbdbd" stroke-width="1"/>
  <circle cx="591.7" cy="413.8" r="7.3" fill="#9e9e9e"/>
  <text x="591.8" y="417.2" font-size="9.5" text-anchor="middle" fill="#fff" stroke="#fff" stroke-width="0.2" font-family="Liberation Sans">14</text>
</svg>

<div class="abs" style="left:546.5px;top:206px;width:171px;height:103px;background:#fff;border:1px solid #e1e4e9;border-radius:2px;overflow:hidden"><div class="abs" style="left:0;top:90px;width:171px;height:13px;background:#f1f2f5"></div></div>
<div class="abs" style="left:560px;top:252.5px;width:10px;height:9.5px;background:#bdbdbd"></div>
<div class="abs" style="left:560px;top:281.5px;width:10px;height:9.5px;background:#0f9d58"></div>

<svg class="abs" style="left:0;top:0" width="800" height="537">
  <line x1="725.8" y1="282" x2="725.8" y2="402" stroke="#8a8a8a" stroke-width="0.8" stroke-dasharray="1.5 2"/>
  <path d="M727 310.5 L727 331 L731.8 327.2 L735.6 336.6 L738.8 335.2 L735 326 L741.2 325.6 Z" fill="#4a4a4a" stroke="#e8e8e8" stroke-width="0.7"/>
</svg>

<div class="abs" style="left:52px;top:472.5px;width:692px;height:53.5px;background:#fff;border:1px solid #dfe3e9;border-radius:12px"></div>
<svg class="abs" style="left:0;top:0" width="800" height="537">
  <circle cx="83" cy="499.3" r="8.2" fill="#0f9d58"/>
  <path d="M77.5 499.5l3.5 3 6.5-6.5" fill="none" stroke="#fff" stroke-width="1.8"/>
  <path d="M711.5 495l4.5 4.5-4.5 4.5" fill="none" stroke="#5f6368" stroke-width="1.8"/>
</svg>
<div class="t" style="left:5.20px;top:3.02px;font-size:16.5px;color:#454746;font-weight:normal;transform:scaleX(1.01);transform-origin:0 0;-webkit-text-stroke:0.2px #454746;">Page indexing</div>
<div class="t" style="left:4.50px;top:57.34px;font-size:13px;color:#3c4043;font-weight:normal;transform:scaleX(0.93);transform-origin:0 0;-webkit-text-stroke:0.2px #3c4043;">All known pages</div>
<div class="t" style="left:482.20px;top:56.81px;font-size:12.6px;color:#70757a;font-weight:normal;transform:scaleX(0.95);transform-origin:0 0;">Primary crawler:</div>
<div class="t" style="left:572.80px;top:57.59px;font-size:12.4px;color:#3c4043;font-weight:normal;transform:scaleX(0.97);transform-origin:0 0;-webkit-text-stroke:0.25px #3c4043;">Smartphone</div>
<div class="t" style="left:672.30px;top:56.81px;font-size:12.6px;color:#70757a;font-weight:normal;transform:scaleX(0.95);transform-origin:0 0;">Last updated:</div>
<div class="t" style="left:749.20px;top:57.59px;font-size:12.4px;color:#3c4043;font-weight:normal;transform:scaleX(1.05);transform-origin:0 0;-webkit-text-stroke:0.25px #3c4043;">8/13/22</div>
<div class="t" style="left:754.80px;top:4.94px;font-size:11.7px;color:#5f6368;font-weight:normal;transform:scaleX(0.915);transform-origin:0 0;-webkit-text-stroke:0.45px #5f6368;">EXPORT</div>
<div class="t" style="left:62.30px;top:130.33px;font-size:10.4px;color:#ffffff;font-weight:normal;">Not indexed</div>
<div class="t" style="left:208.80px;top:130.33px;font-size:10.4px;color:#ffffff;font-weight:normal;">Indexed</div>
<div class="t" style="left:46.30px;top:148.52px;font-size:26.5px;color:#fbfbfb;font-weight:normal;transform:scaleX(0.99);transform-origin:0 0;">4.27M</div>
<div class="t" style="left:192.50px;top:148.52px;font-size:26.5px;color:#fbfbfb;font-weight:normal;">1.09M</div>
<div class="t" style="left:46.00px;top:181.44px;font-size:10.5px;color:#f1f1f1;font-weight:normal;transform:scaleX(0.99);transform-origin:0 0;">14 reasons</div>
<div class="t" style="left:63.90px;top:227.77px;font-size:12.1px;color:#3c4043;font-weight:normal;">Impressions</div>
<div class="t" style="left:39.40px;top:263.60px;font-size:10px;color:#6f7378;font-weight:normal;transform:scaleX(0.935);transform-origin:0 0;">Pages</div>
<div class="t" style="left:-0.3999999999999986px;width:60px;text-align:right;top:277.22px;font-size:10.2px;color:#6f7378;">6M</div>
<div class="t" style="left:-0.3999999999999986px;width:60px;text-align:right;top:317.22px;font-size:10.2px;color:#6f7378;">4M</div>
<div class="t" style="left:-0.3999999999999986px;width:60px;text-align:right;top:357.22px;font-size:10.2px;color:#6f7378;">2M</div>
<div class="t" style="left:-0.3999999999999986px;width:60px;text-align:right;top:397.22px;font-size:10.2px;color:#6f7378;">0</div>
<div class="t" style="left:38px;width:80px;text-align:center;top:427.96px;font-size:10.7px;color:#80858a;transform:scaleX(0.985);transform-origin:50% 0">5/18/22</div>
<div class="t" style="left:119.30000000000001px;width:80px;text-align:center;top:427.96px;font-size:10.7px;color:#80858a;transform:scaleX(0.985);transform-origin:50% 0">5/29/22</div>
<div class="t" style="left:201px;width:80px;text-align:center;top:427.96px;font-size:10.7px;color:#80858a;transform:scaleX(0.985);transform-origin:50% 0">6/9/22</div>
<div class="t" style="left:283.5px;width:80px;text-align:center;top:427.96px;font-size:10.7px;color:#80858a;transform:scaleX(0.985);transform-origin:50% 0">6/20/22</div>
<div class="t" style="left:365.5px;width:80px;text-align:center;top:427.96px;font-size:10.7px;color:#80858a;transform:scaleX(0.985);transform-origin:50% 0">7/1/22</div>
<div class="t" style="left:447px;width:80px;text-align:center;top:427.96px;font-size:10.7px;color:#80858a;transform:scaleX(0.985);transform-origin:50% 0">7/12/22</div>
<div class="t" style="left:529px;width:80px;text-align:center;top:427.96px;font-size:10.7px;color:#80858a;transform:scaleX(0.985);transform-origin:50% 0">7/23/22</div>
<div class="t" style="left:611px;width:80px;text-align:center;top:427.96px;font-size:10.7px;color:#80858a;transform:scaleX(0.985);transform-origin:50% 0">8/3/22</div>
<div class="t" style="left:560.80px;top:222.76px;font-size:12.0px;color:#5f6368;font-weight:normal;transform:scaleX(0.93);transform-origin:0 0;-webkit-text-stroke:0.45px #5f6368;">Saturday, Aug 13</div>
<div class="t" style="left:579.50px;top:251.14px;font-size:11.8px;color:#787c80;font-weight:normal;transform:scaleX(0.96);transform-origin:0 0;">Not indexed</div>
<div class="t" style="left:579.50px;top:280.14px;font-size:11.8px;color:#787c80;font-weight:normal;transform:scaleX(0.96);transform-origin:0 0;">Indexed</div>
<div class="t" style="left:653.20px;top:251.14px;font-size:11.8px;color:#5f6368;font-weight:normal;transform:scaleX(0.95);transform-origin:0 0;-webkit-text-stroke:0.3px #5f6368;">4,274,183</div>
<div class="t" style="left:654.00px;top:280.14px;font-size:11.8px;color:#5f6368;font-weight:normal;transform:scaleX(0.95);transform-origin:0 0;-webkit-text-stroke:0.3px #5f6368;">1,088,903</div>
<div class="t" style="left:106.50px;top:492.17px;font-size:12.1px;color:#3c4043;font-weight:normal;transform:scaleX(0.99);transform-origin:0 0;">View data about indexed pages</div>
</body></html>
